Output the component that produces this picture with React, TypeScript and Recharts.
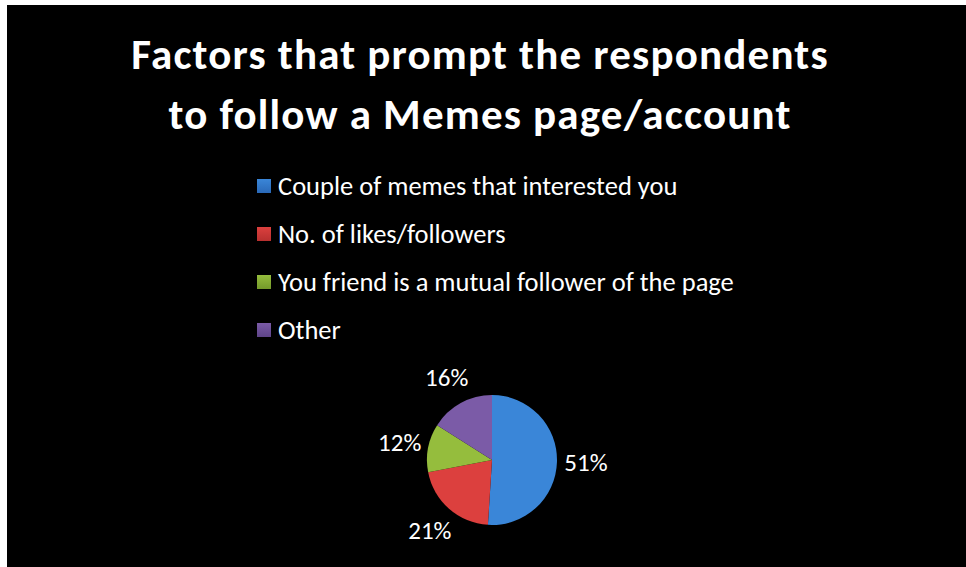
import { PieChart, Pie, Cell, Legend } from "recharts";

const categories = [
  "Couple of memes that interested you",
  "No. of likes/followers",
  "You friend is a mutual follower of the page",
  "Other",
];
const shares = [51, 21, 12, 16];
const titleLines = [
  "Factors that prompt the respondents",
  "to follow a Memes page/account",
];

const colors = ["#3a86d8", "#dc403e", "#95bd3d", "#7b5ba7"];
const darkColors = ["#2a69b8", "#b8302f", "#74992a", "#5e4488"];

const data = categories.map((name, i) => ({ name, value: shares[i] }));

const W = 959;
const H = 562;

const renderLabel = (props: any) => {
  const { cx, cy, midAngle, outerRadius, value } = props;
  const RAD = Math.PI / 180;
  const r = outerRadius + 29;
  const x = cx + r * Math.cos(-midAngle * RAD);
  const y = cy + r * Math.sin(-midAngle * RAD);
  return (
    <text
      x={x}
      y={y}
      fill="#fff"
      textAnchor="middle"
      dominantBaseline="central"
      fontSize={25}
      fontFamily="Carlito, Lato, sans-serif"
    >
      {value}%
    </text>
  );
};

const LegendContent = () => (
  <div style={{ fontFamily: "Carlito, Lato, sans-serif" }}>
    {data.map((d, i) => (
      <div
        key={d.name}
        style={{
          display: "flex",
          alignItems: "center",
          height: 48,
          color: "#fff",
          fontSize: 26.5,
          whiteSpace: "nowrap",
        }}
      >
        <span
          style={{
            display: "inline-block",
            width: 14,
            height: 14,
            marginRight: 7,
            background: `linear-gradient(180deg, ${colors[i]}, ${darkColors[i]})`,
          }}
        />
        {d.name}
      </div>
    ))}
  </div>
);

export default function App() {
  return (
    <div
      style={{
        position: "absolute",
        left: 7,
        top: 5,
        width: W,
        height: H,
        background: "#000",
        overflow: "hidden",
      }}
    >
      <svg
        width={W}
        height={150}
        style={{ position: "absolute", left: 0, top: 0 }}
      >
        {titleLines.map((t, i) => (
          <text
            key={t}
            x={473}
            y={64 + i * 60}
            textAnchor="middle"
            fill="#fff"
            fontSize={43}
            fontWeight={700}
            letterSpacing={1.2}
            fontFamily="Carlito, Lato, sans-serif"
          >
            {t}
          </text>
        ))}
      </svg>
      <PieChart
        width={W}
        height={H}
        margin={{ top: 0, right: 0, bottom: 0, left: 0 }}
        style={{ position: "absolute", left: 0, top: 0 }}
      >
        <defs>
          {colors.map((c, i) => (
            <radialGradient key={c} id={`g${i}`} cx="50%" cy="50%" r="50%">
              <stop offset="0%" stopColor={c} />
              <stop offset="88%" stopColor={c} />
              <stop offset="100%" stopColor={darkColors[i]} />
            </radialGradient>
          ))}
        </defs>
        <Pie
          data={data}
          dataKey="value"
          nameKey="name"
          cx={485}
          cy={455}
          outerRadius={65}
          startAngle={90}
          endAngle={-270}
          stroke="none"
          label={renderLabel}
          labelLine={false}
          isAnimationActive={false}
        >
          {data.map((d, i) => (
            <Cell key={d.name} fill={colors[i]} />
          ))}
        </Pie>
        <Legend
          content={<LegendContent />}
          wrapperStyle={{ position: "absolute", left: 250, top: 157, width: "auto" }}
        />
      </PieChart>
    </div>
  );
}
